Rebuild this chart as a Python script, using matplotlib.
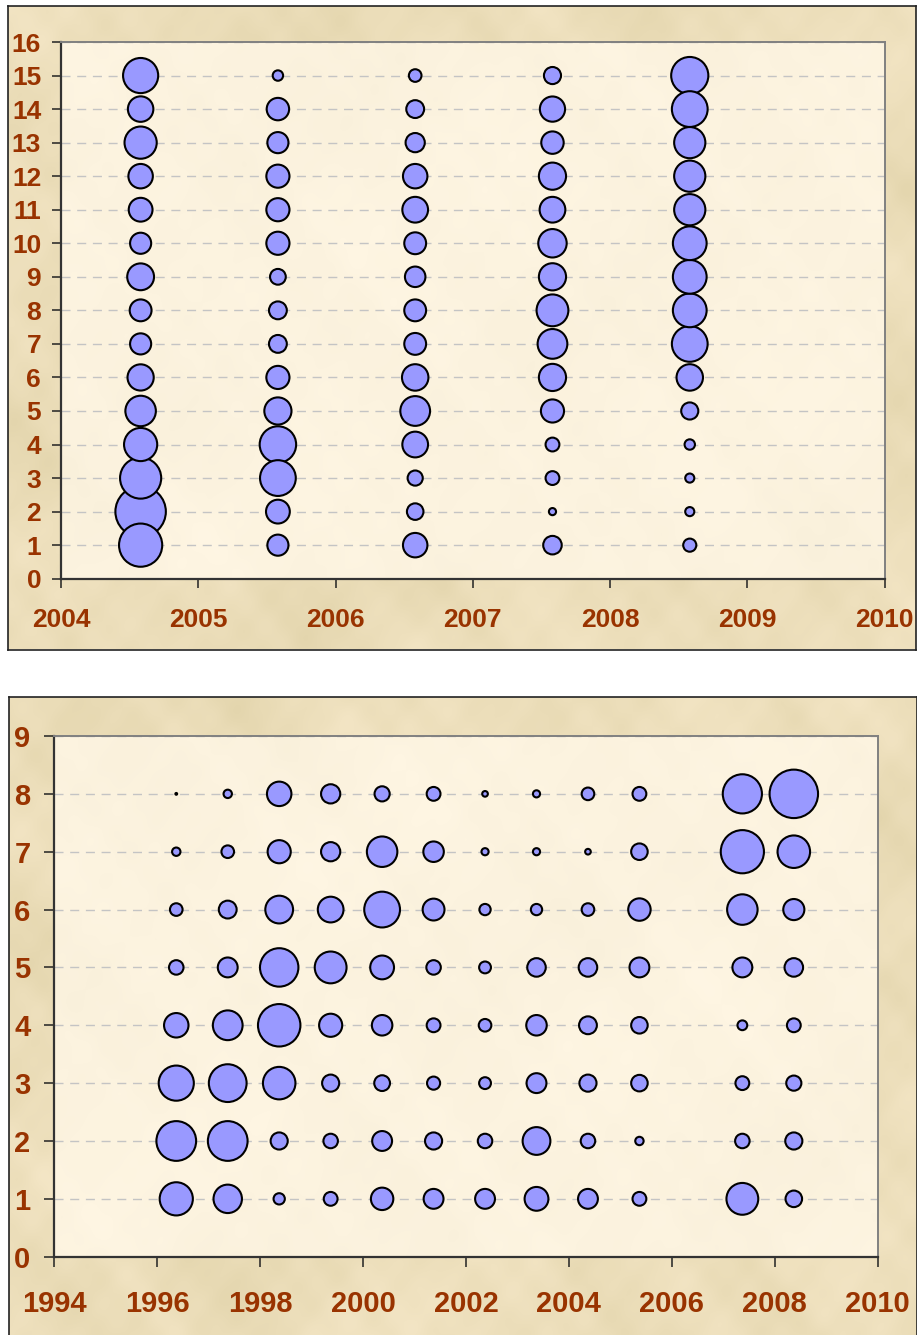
import matplotlib
matplotlib.use("Agg")
import matplotlib.pyplot as plt
import numpy as np

plt.rcParams["font.family"] = ["Liberation Sans", "DejaVu Sans"]

# ---- upper chart: five yearly columns, rows 1..15 ----
top_x = [2004.58, 2005.58, 2006.58, 2007.58, 2008.58]
top_rows = list(range(1, 16))
# bubble sizes, listed for rows 1..15 in each column
top_2004 = [29.3, 40.0, 26.6, 17.3, 14.6, 10.8, 7.0, 7.5, 11.3, 7.0, 8.9, 9.4, 16.3, 10.2, 19.4]
top_2005 = [7.0, 8.9, 20.1, 20.9, 11.6, 8.4, 5.0, 5.0, 3.9, 8.4, 8.4, 8.4, 7.0, 7.9, 1.7]
top_2006 = [9.4, 4.3, 3.6, 10.4, 13.9, 11.0, 7.5, 7.5, 6.6, 7.5, 10.4, 9.4, 5.8, 5.0, 2.5]
top_2007 = [5.4, 0.8, 3.0, 3.0, 8.4, 11.6, 13.9, 15.9, 11.6, 12.7, 10.4, 11.6, 7.9, 10.0, 4.6]
top_2008 = [2.7, 1.3, 1.3, 1.7, 4.6, 11.0, 20.1, 17.9, 17.9, 17.9, 15.3, 15.3, 15.3, 20.1, 21.7]
top_sizes = [top_2004, top_2005, top_2006, top_2007, top_2008]

# ---- lower chart: twelve yearly columns, rows 1..8 ----
bot_x = [1996.37, 1997.37, 1998.37, 1999.37, 2000.37, 2001.37,
         2002.37, 2003.37, 2004.37, 2005.37, 2007.37, 2008.37]
bot_rows = list(range(1, 9))
# one list per row (1..8), one value per column
bot_r1 = [17.3, 12.7, 2.0, 3.0, 7.9, 6.2, 6.2, 8.9, 6.2, 3.0, 15.9, 4.3]
bot_r2 = [24.8, 24.8, 4.6, 3.3, 6.2, 4.6, 3.3, 12.1, 3.3, 1.1, 3.3, 4.6]
bot_r3 = [19.4, 22.4, 16.6, 4.6, 3.9, 2.7, 2.2, 6.2, 4.6, 4.3, 3.0, 3.6]
bot_r4 = [9.4, 13.9, 28.3, 8.4, 6.6, 3.0, 2.5, 6.6, 5.0, 4.3, 1.5, 3.0]
bot_r5 = [3.3, 6.2, 23.2, 15.9, 8.9, 3.3, 2.2, 5.4, 5.4, 6.2, 6.2, 5.4]
bot_r6 = [2.5, 5.0, 12.1, 10.4, 20.1, 7.5, 2.0, 2.0, 2.5, 7.9, 14.6, 7.0]
bot_r7 = [1.1, 2.5, 8.4, 5.8, 14.6, 6.6, 0.8, 0.8, 0.5, 4.3, 29.3, 16.6]
bot_r8 = [0.05, 1.1, 9.4, 5.8, 3.6, 3.0, 0.5, 0.8, 2.5, 3.0, 24.1, 36.9]
bot_sizes = [bot_r1, bot_r2, bot_r3, bot_r4, bot_r5, bot_r6, bot_r7, bot_r8]

BUBBLE = "#9999FF"
LABEL = "#993300"
SIZE_SCALE = 33.0   # value -> marker area (pt^2)

W, H = 917, 1335
fig = plt.figure(figsize=(W / 100, H / 100), dpi=100)
fig.patch.set_facecolor("white")


def parchment(h, w, base, amp, phase=0.0):
    """Mottled paper texture built from overlapping waves of several scales."""
    yy, xx = np.mgrid[0:h, 0:w].astype(float)
    waves = [(0.031, 0.019, 0.4, 0.7), (0.012, 0.045, 2.1, 0.6),
             (0.071, -0.043, 1.3, 0.5), (-0.093, 0.081, 0.7, 0.45),
             (0.16, 0.13, 2.9, 0.35), (-0.21, 0.17, 1.1, 0.3),
             (0.27, -0.23, 0.2, 0.25), (0.38, 0.31, 2.4, 0.2)]
    n = np.zeros_like(xx)
    for kx, ky, ph, a in waves:
        n += a * np.sin(kx * xx + ky * yy + ph + phase)
    n += 0.5 * np.sin(0.052 * xx + 1.0) * np.sin(0.066 * yy + 2.0 + phase)
    n = n / np.abs(n).max()
    rgb = np.array(base)[None, None, :] / 255.0 + (amp / 255.0) * n[..., None] * np.array([1.0, 1.0, 1.5])
    return np.clip(rgb, 0, 1)


def px_box(x0, y0, x1, y1):
    return [x0 / W, 1 - y1 / H, (x1 - x0) / W, (y1 - y0) / H]


def frame(box, phase):
    fa = fig.add_axes(px_box(*box))
    fa.imshow(parchment(320, 450, (236, 222, 186), 9, phase), aspect="auto",
              extent=[0, 1, 0, 1], interpolation="bicubic")
    fa.set_xticks([])
    fa.set_yticks([])
    for s in fa.spines.values():
        s.set_color("#222222")
        s.set_linewidth(1.2)
    return fa


def plot_area(box, phase):
    pa = fig.add_axes(px_box(*box))
    pa.imshow(parchment(260, 400, (252, 243, 223), 3, phase), aspect="auto",
              extent=[0, 1, 0, 1], interpolation="bicubic")
    pa.axis("off")
    ax = fig.add_axes(px_box(*box))
    ax.set_facecolor("none")
    return ax


def style(ax, fs, xpad, ypad, tick_len):
    for side in ("left", "bottom"):
        ax.spines[side].set_color("#333333")
        ax.spines[side].set_linewidth(1.6)
    for side in ("top", "right"):
        ax.spines[side].set_color("#808080")
        ax.spines[side].set_linewidth(1.4)
    ax.tick_params(axis="both", direction="out", length=tick_len, width=1.1,
                   color="#222222", labelcolor=LABEL, labelsize=fs)
    ax.tick_params(axis="x", pad=xpad)
    ax.tick_params(axis="y", pad=ypad)
    for lab in ax.get_xticklabels() + ax.get_yticklabels():
        lab.set_fontweight("bold")
    ax.grid(True, axis="y", color="#C4C4C4", linewidth=1.0,
            linestyle=(0, (6.5, 4.8)), zorder=1)
    ax.set_axisbelow(True)


def bubbles(ax, xs, ys, vals):
    xs, ys, vals = np.asarray(xs), np.asarray(ys), np.asarray(vals)
    order = np.argsort(-vals)
    ax.scatter(xs[order], ys[order], s=vals[order] * SIZE_SCALE, c=BUBBLE,
               edgecolors="black", linewidths=1.5, zorder=3, clip_on=False)


# ---------------- upper chart ----------------
frame((8, 6, 916, 649.5), 0.0)
ax1 = plot_area((61, 42, 884.7, 578.7), 0.0)
tx = np.repeat(top_x, len(top_rows))
ty = np.tile(top_rows, len(top_x))
tv = np.concatenate(top_sizes)
bubbles(ax1, tx, ty, tv)
ax1.set_xlim(2004, 2010)
ax1.set_ylim(0, 16)
ax1.set_xticks(range(2004, 2011))
ax1.set_yticks(range(0, 17))
style(ax1, 19, 14.5, 8, 6.3)

# ---------------- lower chart ----------------
frame((9, 697, 917, 1340), 1.7)
ax2 = plot_area((54.3, 736, 877.7, 1256.7), 1.7)
bx = np.tile(bot_x, len(bot_rows))
by = np.repeat(bot_rows, len(bot_x))
bv = np.concatenate(bot_sizes)
bubbles(ax2, bx, by, bv)
ax2.set_xlim(1994, 2010)
ax2.set_ylim(0, 9)
ax2.set_xticks(range(1994, 2011, 2))
ax2.set_yticks(range(0, 10))
style(ax2, 21, 17, 10, 7.2)

fig.savefig("out.png", dpi=100, facecolor="white")
